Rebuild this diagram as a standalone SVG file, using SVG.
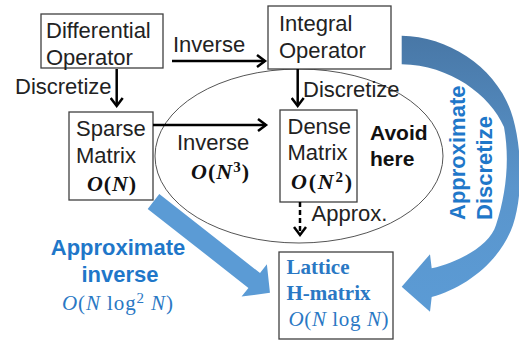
<svg xmlns="http://www.w3.org/2000/svg" width="519" height="341" viewBox="0 0 519 341">
<style>
.box{fill:#fff;stroke:#404040;stroke-width:1.3}
.t{font-family:"Liberation Sans",Arial,sans-serif;font-size:22px;fill:#222}
.b{font-family:"Liberation Sans",Arial,sans-serif;font-size:21px;font-weight:bold;fill:#111}
.bl{font-family:"Liberation Sans",Arial,sans-serif;font-size:22px;font-weight:bold;fill:#1f77c9}
.m{font-family:"Liberation Serif","Times New Roman",serif;font-size:22px;font-weight:bold;fill:#111}
.mb{font-family:"Liberation Serif","Times New Roman",serif;font-size:21px;fill:#2a78c4}
.lb{font-family:"Liberation Serif","Times New Roman",serif;font-size:21px;font-weight:bold;fill:#2a78c4}
.i{font-style:italic}
.arr{stroke:#000;stroke-width:2.5;fill:none}
</style>
<defs>
<marker id="ah" markerUnits="userSpaceOnUse" markerWidth="14" markerHeight="14" viewBox="-10 -7 12 14" refX="0" refY="0" orient="auto">
<path d="M-8,-6 L0,0 L-8,6" fill="none" stroke="#000" stroke-width="2.5"/>
</marker>
<linearGradient id="cg" gradientUnits="userSpaceOnUse" x1="0" y1="35" x2="0" y2="312">
<stop offset="0" stop-color="#4877a6"/>
<stop offset="0.55" stop-color="#5a95cc"/>
<stop offset="1" stop-color="#5b9bd5"/>
</linearGradient>
</defs>

<g id="avoid-region">
<ellipse cx="299" cy="156" rx="144" ry="87" fill="none" stroke="#555" stroke-width="1"/>
<text class="b" x="370" y="139.5">Avoid</text>
<text class="b" x="370" y="166">here</text>
</g>

<g id="diff-op">
<rect class="box" x="41" y="14" width="122" height="54"/>
<text class="t" x="46" y="37.5">Differential</text>
<text class="t" x="46" y="64.5">Operator</text>
</g>

<g id="int-op">
<rect class="box" x="268" y="6" width="123" height="63"/>
<text class="t" x="279" y="31">Integral</text>
<text class="t" x="279" y="57.5">Operator</text>
</g>

<g id="sparse">
<rect class="box" x="69" y="112" width="84" height="88"/>
<text class="t" x="76" y="136">Sparse</text>
<text class="t" x="76" y="162.5">Matrix</text>
<text class="m" x="87" y="190.5" textLength="49" lengthAdjust="spacing"><tspan class="i">O</tspan>(<tspan class="i">N</tspan>)</text>
</g>

<g id="dense">
<rect class="box" x="280" y="110" width="77" height="92"/>
<text class="t" x="287.5" y="134">Dense</text>
<text class="t" x="287.5" y="160">Matrix</text>
<text class="m" x="291" y="188.5" textLength="61" lengthAdjust="spacing"><tspan class="i">O</tspan>(<tspan class="i">N</tspan><tspan dy="-7" font-size="15">2</tspan><tspan dy="7">)</tspan></text>
</g>

<g id="lattice">
<rect class="box" x="279" y="252" width="114" height="87"/>
<text class="lb" x="286.5" y="273.5">Lattice</text>
<text class="lb" x="286.5" y="300">H-matrix</text>
<text class="mb" x="288.5" y="326" textLength="100" lengthAdjust="spacing"><tspan class="i">O</tspan>(<tspan class="i">N</tspan> log <tspan class="i">N</tspan>)</text>
</g>

<g id="connectors">
<line class="arr" x1="116.7" y1="69" x2="116.7" y2="106" marker-end="url(#ah)"/>
<line class="arr" x1="172" y1="61" x2="265" y2="61" marker-end="url(#ah)"/>
<line class="arr" x1="297.7" y1="69" x2="297.7" y2="106" marker-end="url(#ah)"/>
<line class="arr" x1="153" y1="125" x2="266" y2="125" marker-end="url(#ah)"/>
<line class="arr" x1="300" y1="202" x2="300" y2="235" stroke-dasharray="5,3" marker-end="url(#ah)"/>
<polygon id="approx-inverse-arrow" transform="translate(153.5,201.5) rotate(38.1)" points="0,-9.4 128,-9.4 128,-20.5 148,0 128,20.5 128,9.4 0,9.4" fill="#5b9bd5"/>
<path id="approx-discretize-arrow" fill="url(#cg)" d="M401.7,35.7 C450,36 500,70 513,118 C522,150 523,195 513,225 C500,262 465,288 431.7,297 L430,311.7 L401.7,286.7 L430,254.3 L431.7,268.3 C460,262 490,245 496,225 C506,195 510,160 504,127 C490,95 450,65 401.7,64.3 Z"/>
</g>

<g id="labels">
<text class="t" x="173" y="51.5">Inverse</text>
<text class="t" x="15" y="93.5">Discretize</text>
<text class="t" x="303" y="97">Discretize</text>
<text class="t" x="177" y="149.5">Inverse</text>
<text class="m" x="191" y="178.5" textLength="58" lengthAdjust="spacing"><tspan class="i">O</tspan>(<tspan class="i">N</tspan><tspan dy="-7" font-size="15">3</tspan><tspan dy="7">)</tspan></text>
<text class="t" x="311.5" y="221">Approx.</text>
<text class="bl" x="118" y="255" text-anchor="middle">Approximate</text>
<text class="bl" x="120" y="281.5" text-anchor="middle">inverse</text>
<text class="mb" x="62" y="309.5" textLength="111" lengthAdjust="spacing"><tspan class="i">O</tspan>(<tspan class="i">N</tspan> log<tspan dy="-7" font-size="15">2</tspan><tspan dy="7"> </tspan><tspan class="i">N</tspan>)</text>
<text class="bl" transform="translate(465,220) rotate(-90)">Approximate</text>
<text class="bl" transform="translate(491.5,220) rotate(-90)">Discretize</text>
</g>
</svg>
